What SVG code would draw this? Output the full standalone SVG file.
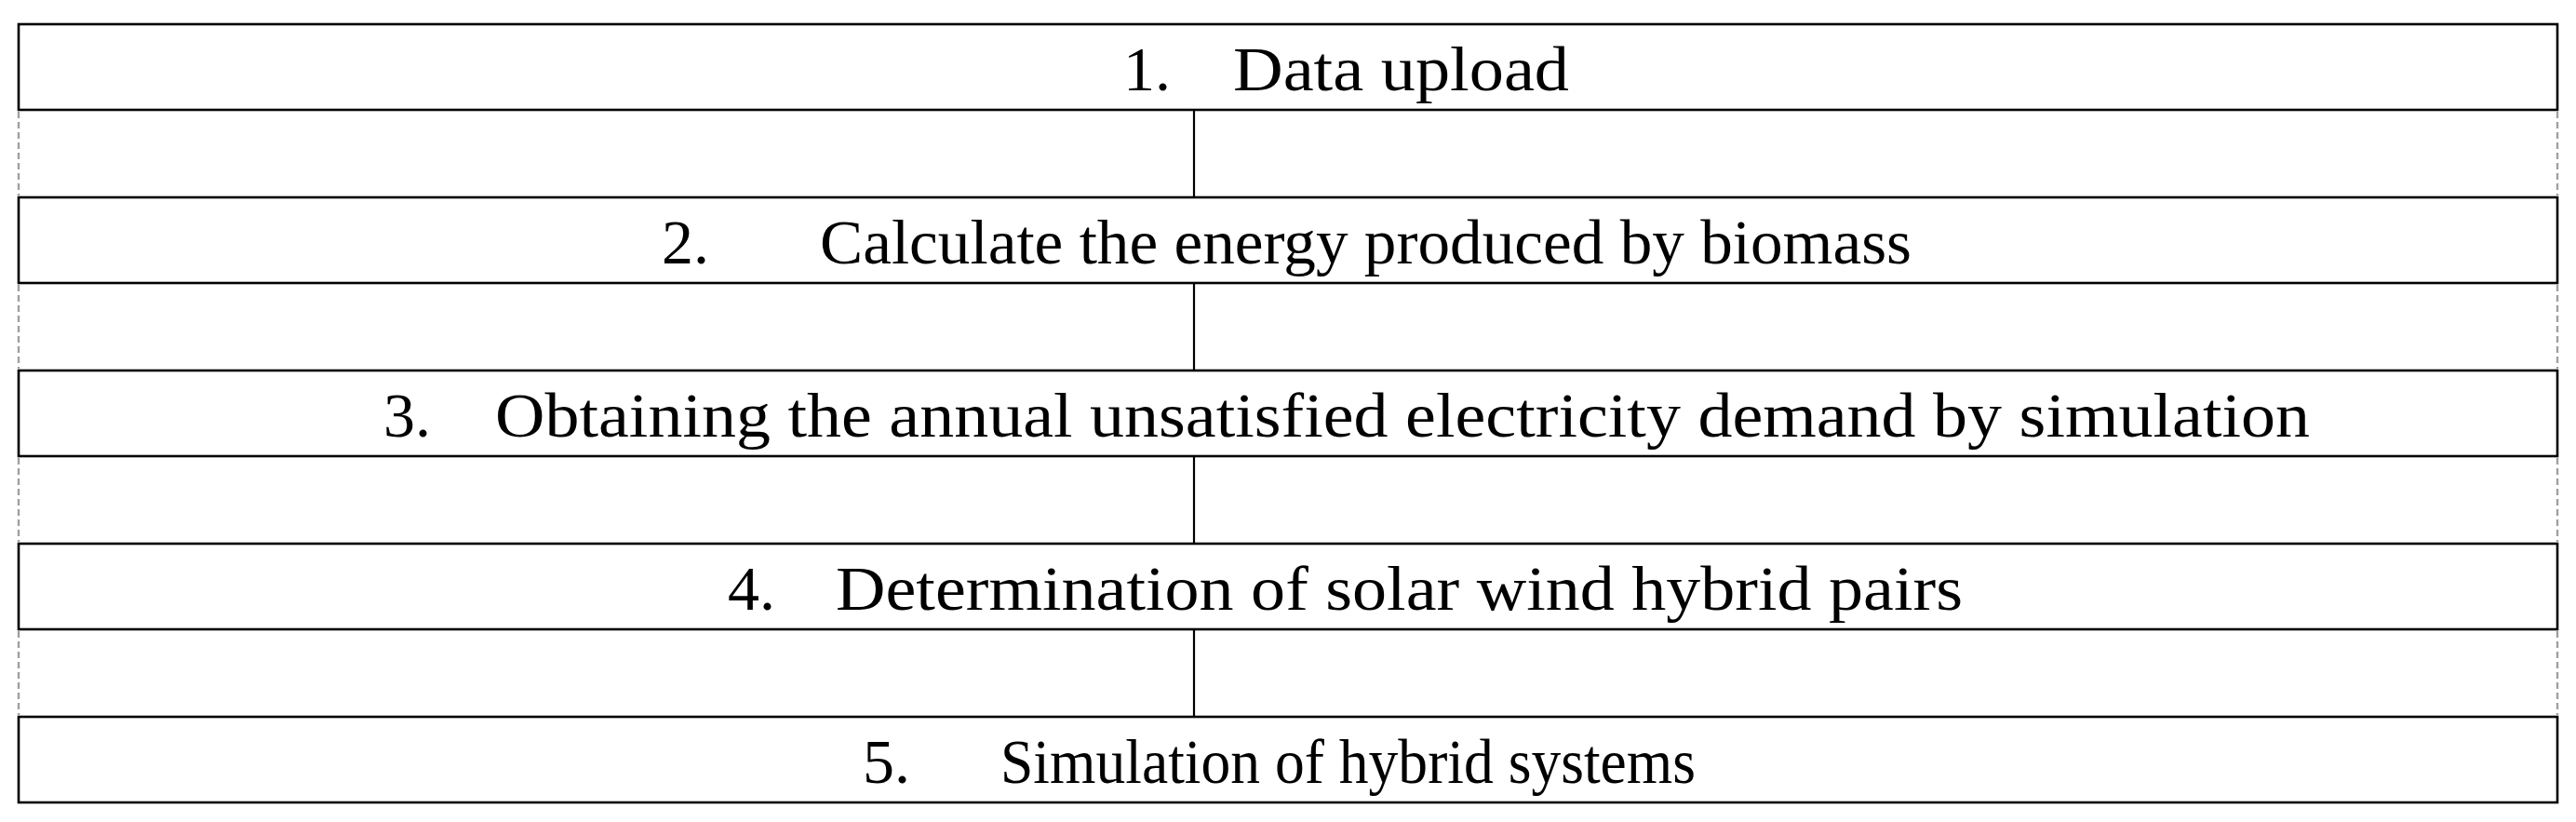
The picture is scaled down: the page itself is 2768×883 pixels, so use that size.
<svg xmlns="http://www.w3.org/2000/svg" width="2768" height="883" viewBox="0 0 2768 883">
<style>
.box{fill:#fff;stroke:#000;stroke-width:2.6}
.conn{stroke:#000;stroke-width:2.2;fill:none}
.dash{stroke:#a0a0a0;stroke-width:2.4;stroke-dasharray:7 4;fill:none}
.t{font-family:"Liberation Serif","Times New Roman",serif;font-size:68px;fill:#000}
</style>
<rect width="2768" height="883" fill="#fff"/>
<g id="frame-guides">
<line class="dash" x1="20" y1="120" x2="20" y2="210"/>
<line class="dash" x1="2748" y1="120" x2="2748" y2="210"/>
<line class="dash" x1="20" y1="306" x2="20" y2="396"/>
<line class="dash" x1="2748" y1="306" x2="2748" y2="396"/>
<line class="dash" x1="20" y1="492" x2="20" y2="582"/>
<line class="dash" x1="2748" y1="492" x2="2748" y2="582"/>
<line class="dash" x1="20" y1="678" x2="20" y2="768"/>
<line class="dash" x1="2748" y1="678" x2="2748" y2="768"/>
</g>
<g id="connectors">
<line class="conn" x1="1283" y1="118" x2="1283" y2="212"/>
<line class="conn" x1="1283" y1="304" x2="1283" y2="398"/>
<line class="conn" x1="1283" y1="490" x2="1283" y2="584"/>
<line class="conn" x1="1283" y1="676" x2="1283" y2="770"/>
</g>
<g id="step1">
<rect class="box" x="20" y="26" width="2728" height="92"/>
<text class="t" x="1207" y="97">1.</text>
<text class="t" x="1325" y="97" textLength="361" lengthAdjust="spacingAndGlyphs">Data upload</text>
</g>
<g id="step2">
<rect class="box" x="20" y="212" width="2728" height="92"/>
<text class="t" x="711" y="283">2.</text>
<text class="t" x="881" y="283" textLength="1173" lengthAdjust="spacingAndGlyphs">Calculate the energy produced by biomass</text>
</g>
<g id="step3">
<rect class="box" x="20" y="398" width="2728" height="92"/>
<text class="t" x="412" y="469">3.</text>
<text class="t" x="532" y="469" textLength="1950" lengthAdjust="spacingAndGlyphs">Obtaining the annual unsatisfied electricity demand by simulation</text>
</g>
<g id="step4">
<rect class="box" x="20" y="584" width="2728" height="92"/>
<text class="t" x="782" y="655">4.</text>
<text class="t" x="898" y="655" textLength="1211" lengthAdjust="spacingAndGlyphs">Determination of solar wind hybrid pairs</text>
</g>
<g id="step5">
<rect class="box" x="20" y="770" width="2728" height="92"/>
<text class="t" x="927" y="841">5.</text>
<text class="t" x="1075" y="841" textLength="747" lengthAdjust="spacingAndGlyphs">Simulation of hybrid systems</text>
</g>
</svg>
